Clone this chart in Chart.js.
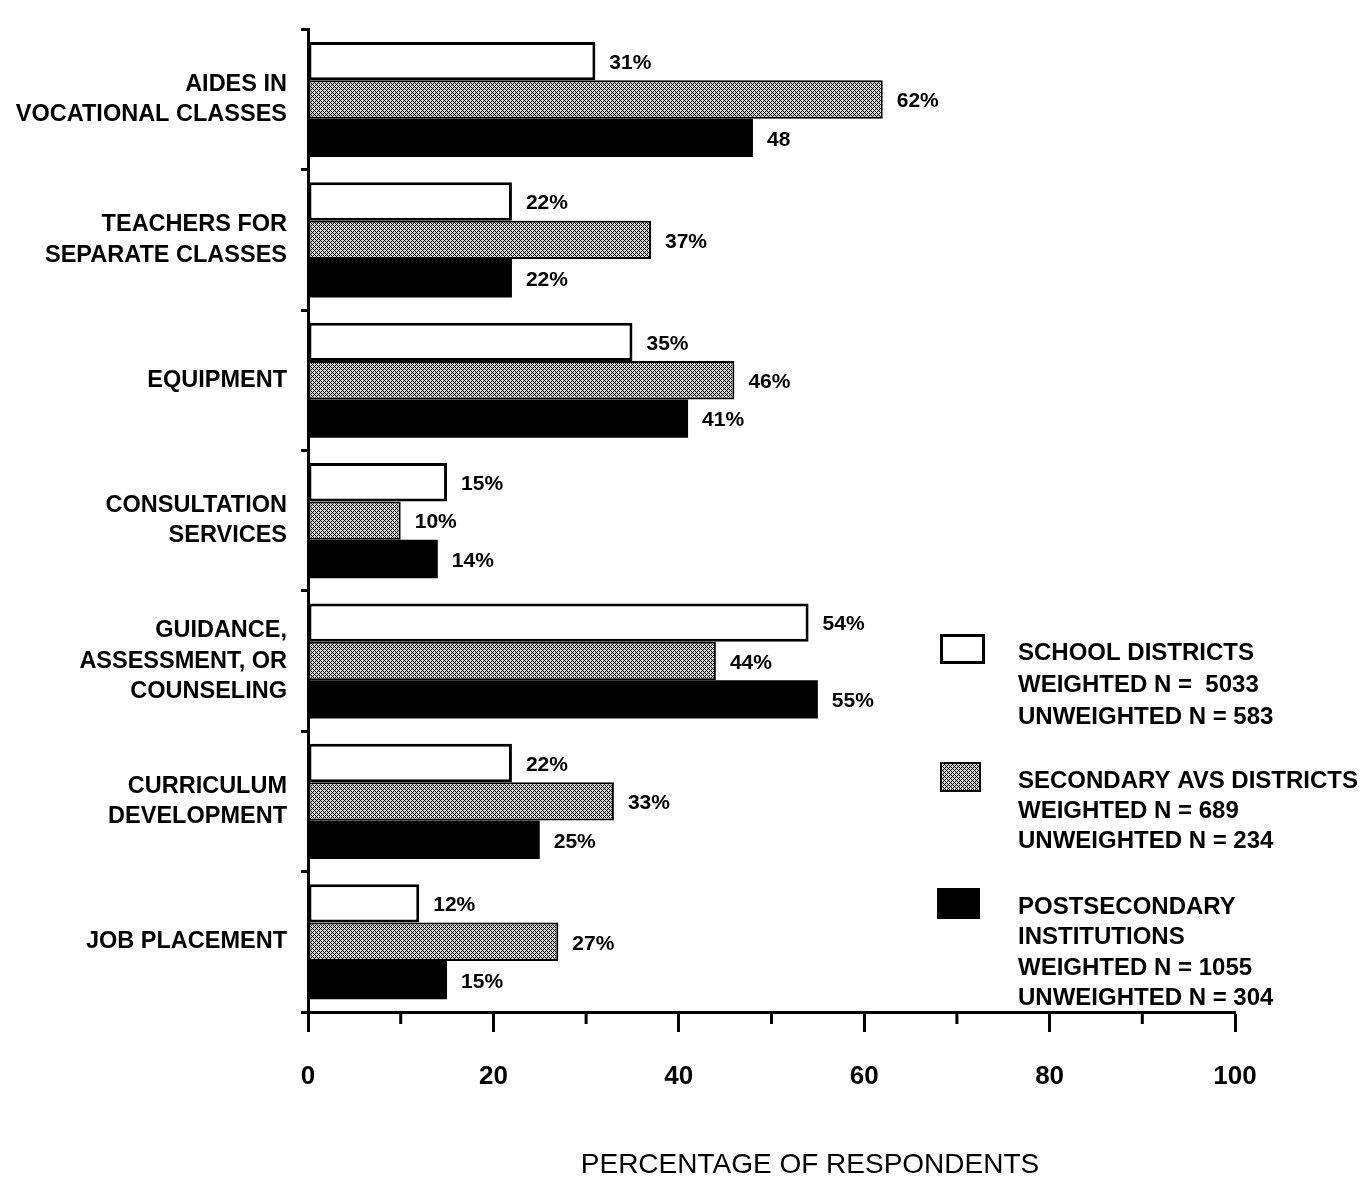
<!DOCTYPE html>
<html><head><meta charset="utf-8">
<script src="https://cdn.jsdelivr.net/npm/chart.js@4.4.0/dist/chart.umd.min.js"></script>
<style>html,body{margin:0;padding:0;background:#fff;overflow:hidden}#wrap{position:relative;width:1362px;height:1179px}</style>
</head><body><div id="wrap"><canvas id="c" width="1362" height="1179"></canvas></div>
<script>
const categories = [["AIDES IN","VOCATIONAL CLASSES"],["TEACHERS FOR","SEPARATE CLASSES"],"EQUIPMENT",["CONSULTATION","SERVICES"],["GUIDANCE,","ASSESSMENT, OR","COUNSELING"],["CURRICULUM","DEVELOPMENT"],"JOB PLACEMENT"];
const schoolDistricts = [31,22,35,15,54,22,12];
const secondaryAVS = [62,37,46,10,44,33,27];
const postsecondary = [48,22,41,14,55,25,15];
const schoolLabels = ["31%","22%","35%","15%","54%","22%","12%"];
const secondaryLabels = ["62%","37%","46%","10%","44%","33%","27%"];
const postLabels = ["48","22%","41%","14%","55%","25%","15%"];
const seriesNames = ["SCHOOL DISTRICTS","SECONDARY AVS DISTRICTS","POSTSECONDARY INSTITUTIONS"];
const legendLines = [
  ["SCHOOL DISTRICTS","WEIGHTED N =  5033","UNWEIGHTED N = 583"],
  ["SECONDARY AVS DISTRICTS","WEIGHTED N = 689","UNWEIGHTED N = 234"],
  ["POSTSECONDARY","INSTITUTIONS","WEIGHTED N = 1055","UNWEIGHTED N = 304"]
];
const xTickLabels = [0,20,40,60,80,100];
const xMinorTicks = [10,30,50,70,90];
const xTitle = "PERCENTAGE OF RESPONDENTS";

const FONT = "'Liberation Sans', Arial, Helvetica, sans-serif";

// crosshatch pattern
const tile = document.createElement('canvas');
tile.width = 4; tile.height = 4;
const tctx = tile.getContext('2d');
tctx.fillStyle = '#d4d4d4'; tctx.fillRect(0,0,4,4);
tctx.fillStyle = '#000';
for (let y=0;y<4;y++) for (let x=0;x<4;x++) {
  if ((x+y)%4===0 || (x-y+4)%4===0) tctx.fillRect(x,y,1,1);
}
const hatch = document.createElement('canvas').getContext('2d').createPattern(tile,'repeat');

const valueLabels = [schoolLabels, secondaryLabels, postLabels];

const labelPlugin = {
  id: 'valueLabels',
  afterDatasetsDraw(chart) {
    const ctx = chart.ctx;
    ctx.save();
    ctx.font = "bold 21px " + FONT;
    ctx.fillStyle = '#000';
    ctx.textAlign = 'left';
    ctx.textBaseline = 'middle';
    chart.data.datasets.forEach((ds, di) => {
      chart.getDatasetMeta(di).data.forEach((el, i) => {
        ctx.fillText(valueLabels[di][i], el.x + 14, el.y + 2);
      });
    });
    ctx.restore();
  }
};

const extrasPlugin = {
  id: 'extras',
  afterDraw(chart) {
    const ctx = chart.ctx;
    const xs = chart.scales.x;
    const bottom = chart.chartArea.bottom;
    ctx.save();
    // minor ticks
    ctx.strokeStyle = '#000'; ctx.lineWidth = 3;
    xMinorTicks.forEach(v => {
      const px = xs.getPixelForValue(v);
      ctx.beginPath(); ctx.moveTo(px, bottom); ctx.lineTo(px, bottom + 12); ctx.stroke();
    });
    // axis title
    ctx.font = "28px " + FONT;
    ctx.fillStyle = '#000';
    ctx.textAlign = 'center'; ctx.textBaseline = 'middle';
    ctx.fillText(xTitle, 810, 1165);
    // legend
    const boxes = [
      {x:940,y:634,w:45,h:30,fill:'#fff',bw:3},
      {x:940,y:762,w:41,h:30,fill:hatch,bw:2},
      {x:937,y:888,w:43,h:31,fill:'#000',bw:0}
    ];
    const lineStarts = [653, 781, 907];
    const lineGap = [32, 30, 30.5];
    ctx.font = "bold 24px " + FONT;
    ctx.textAlign = 'left';
    boxes.forEach((b, i) => {
      ctx.fillStyle = '#000';
      ctx.fillRect(b.x, b.y, b.w, b.h);
      if (b.bw) {
        ctx.fillStyle = b.fill;
        ctx.fillRect(b.x + b.bw, b.y + b.bw, b.w - 2*b.bw, b.h - 2*b.bw);
      }
      ctx.fillStyle = '#000';
      legendLines[i].forEach((t, j) => {
        ctx.fillText(t, 1018, lineStarts[i] + j*lineGap[i]);
      });
    });
    ctx.restore();
  }
};

new Chart(document.getElementById('c'), {
  type: 'bar',
  data: {
    labels: categories,
    datasets: [
      {label: seriesNames[0], data: schoolDistricts, backgroundColor: '#fff', borderColor: '#000', borderWidth: 3, borderSkipped: false},
      {label: seriesNames[1], data: secondaryAVS, backgroundColor: hatch, borderColor: '#000', borderWidth: 2, borderSkipped: false},
      {label: seriesNames[2], data: postsecondary, backgroundColor: '#000', borderColor: '#000', borderWidth: 0}
    ]
  },
  options: {
    indexAxis: 'y',
    responsive: false,
    devicePixelRatio: 1,
    animation: false,
    categoryPercentage: 0.82,
    barPercentage: 1.0,
    layout: {padding: {top: 18, right: 127, left: 0, bottom: 0}},
    plugins: {legend: {display: false}, tooltip: {enabled: false}},
    scales: {
      x: {
        min: 0, max: 100,
        afterFit(scale) { scale.height = 167; },
        border: {display: true, color: '#000', width: 3},
        grid: {
          drawOnChartArea: false, drawTicks: true, tickLength: 20, tickWidth: 3,
          tickColor: (ctx) => (ctx.tick && xTickLabels.includes(ctx.tick.value)) ? '#000' : 'rgba(0,0,0,0)'
        },
        ticks: {
          stepSize: 10, autoSkip: false, maxRotation: 0, padding: 29,
          color: '#000', font: {family: FONT, size: 26, weight: 'bold'},
          callback: (v) => xTickLabels.includes(v) ? String(v) : ''
        }
      },
      y: {
        afterFit(scale) { scale.width = 308; },
        border: {display: true, color: '#000', width: 3},
        grid: {drawOnChartArea: false, drawTicks: true, tickLength: 7, tickWidth: 3, tickColor: '#000', offset: true},
        ticks: {
          padding: 14, color: '#000', autoSkip: false,
          font: {family: FONT, size: 23.5, weight: 'bold', lineHeight: 1.3}
        }
      }
    }
  },
  plugins: [labelPlugin, extrasPlugin]
});
</script>
</body></html>
